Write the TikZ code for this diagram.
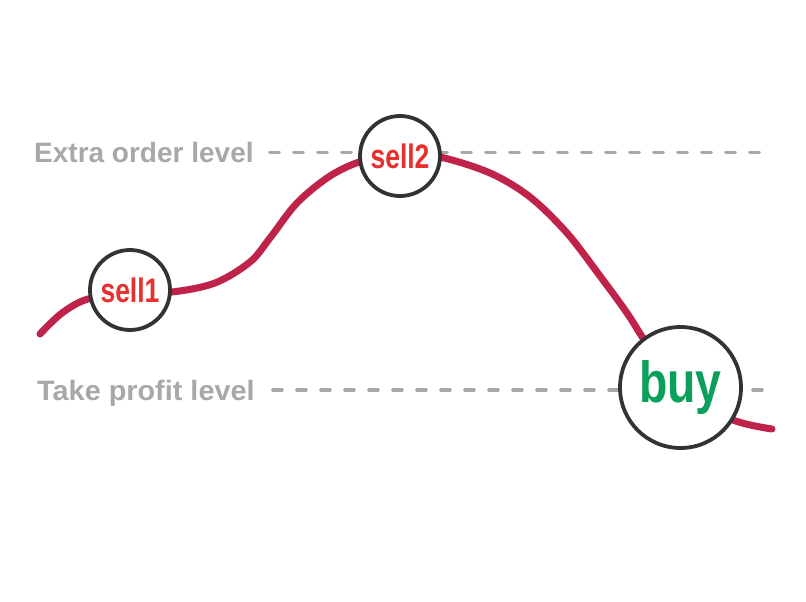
\documentclass[tikz,border=0pt]{standalone}
\usepackage{fontspec}
\setmainfont{Liberation Sans}
\usepackage{graphicx}
\definecolor{lvlgray}{HTML}{A8A8A8}
\definecolor{curvecol}{HTML}{C0234A}
\definecolor{ringcol}{HTML}{333333}
\definecolor{sellred}{HTML}{E8302E}
\definecolor{buygreen}{HTML}{0A9F5A}
\tikzset{
  lvllabel/.style={text=lvlgray, font=\fontsize{28}{30}\selectfont\bfseries, inner sep=0pt},
  lvlline/.style={draw=lvlgray, line width=3.6pt, line cap=round, dash pattern=on 9pt off 15pt},
  pricecurve/.style={draw=curvecol, line width=7pt, line cap=round, line join=round},
  ring/.style={circle, draw=ringcol, line width=3.8pt, fill=white, inner sep=0pt},
  sellring/.style={ring, minimum size=80pt, text=sellred, font=\fontsize{34}{36}\selectfont\bfseries},
  buyring/.style={ring, minimum size=121pt, text=buygreen, font=\fontsize{58}{60}\selectfont\bfseries},
}
\begin{document}
\begin{tikzpicture}[x=1pt,y=-1pt]
\useasboundingbox (0,0) rectangle (806,602);
\fill[white] (0,0) rectangle (806,602);
% level labels
\node[lvllabel, anchor=base west] (extra) at (34,162) {Extra order level};
\node[lvllabel, anchor=base west] (take) at (37,400) {\scalebox{1.03}[1]{Take profit level}};
% dashed level lines
\coordinate (extraS) at (270,152.3);
\coordinate (extraE) at (765,152.3);
\coordinate (takeS) at (273,390);
\coordinate (takeE) at (765,390);
\draw[lvlline] (extraS) -- (extraE);
\draw[lvlline] (takeS) -- (takeE);
% price curve
\draw[pricecurve] plot[smooth, tension=0.55] coordinates {
  (40,334) (62,313) (88,299) (130,293) (172,292) (215,283) (250,262)
  (270,238) (297,203) (330,176) (362,161) (400,153) (440,157) (490,173)
  (530,197) (567,233) (600,276) (627,313) (650,348) (690,395) (733,420) (772,429)};
% order circles
\node[sellring] (sell1) at (130,290) {\scalebox{0.78}[1]{sell1}};
\node[sellring] (sell2) at (400,156) {\scalebox{0.78}[1]{sell2}};
\node[buyring] (buy) at (680.5,387.5) {\scalebox{0.8}[1]{buy}};
\end{tikzpicture}
\end{document}
